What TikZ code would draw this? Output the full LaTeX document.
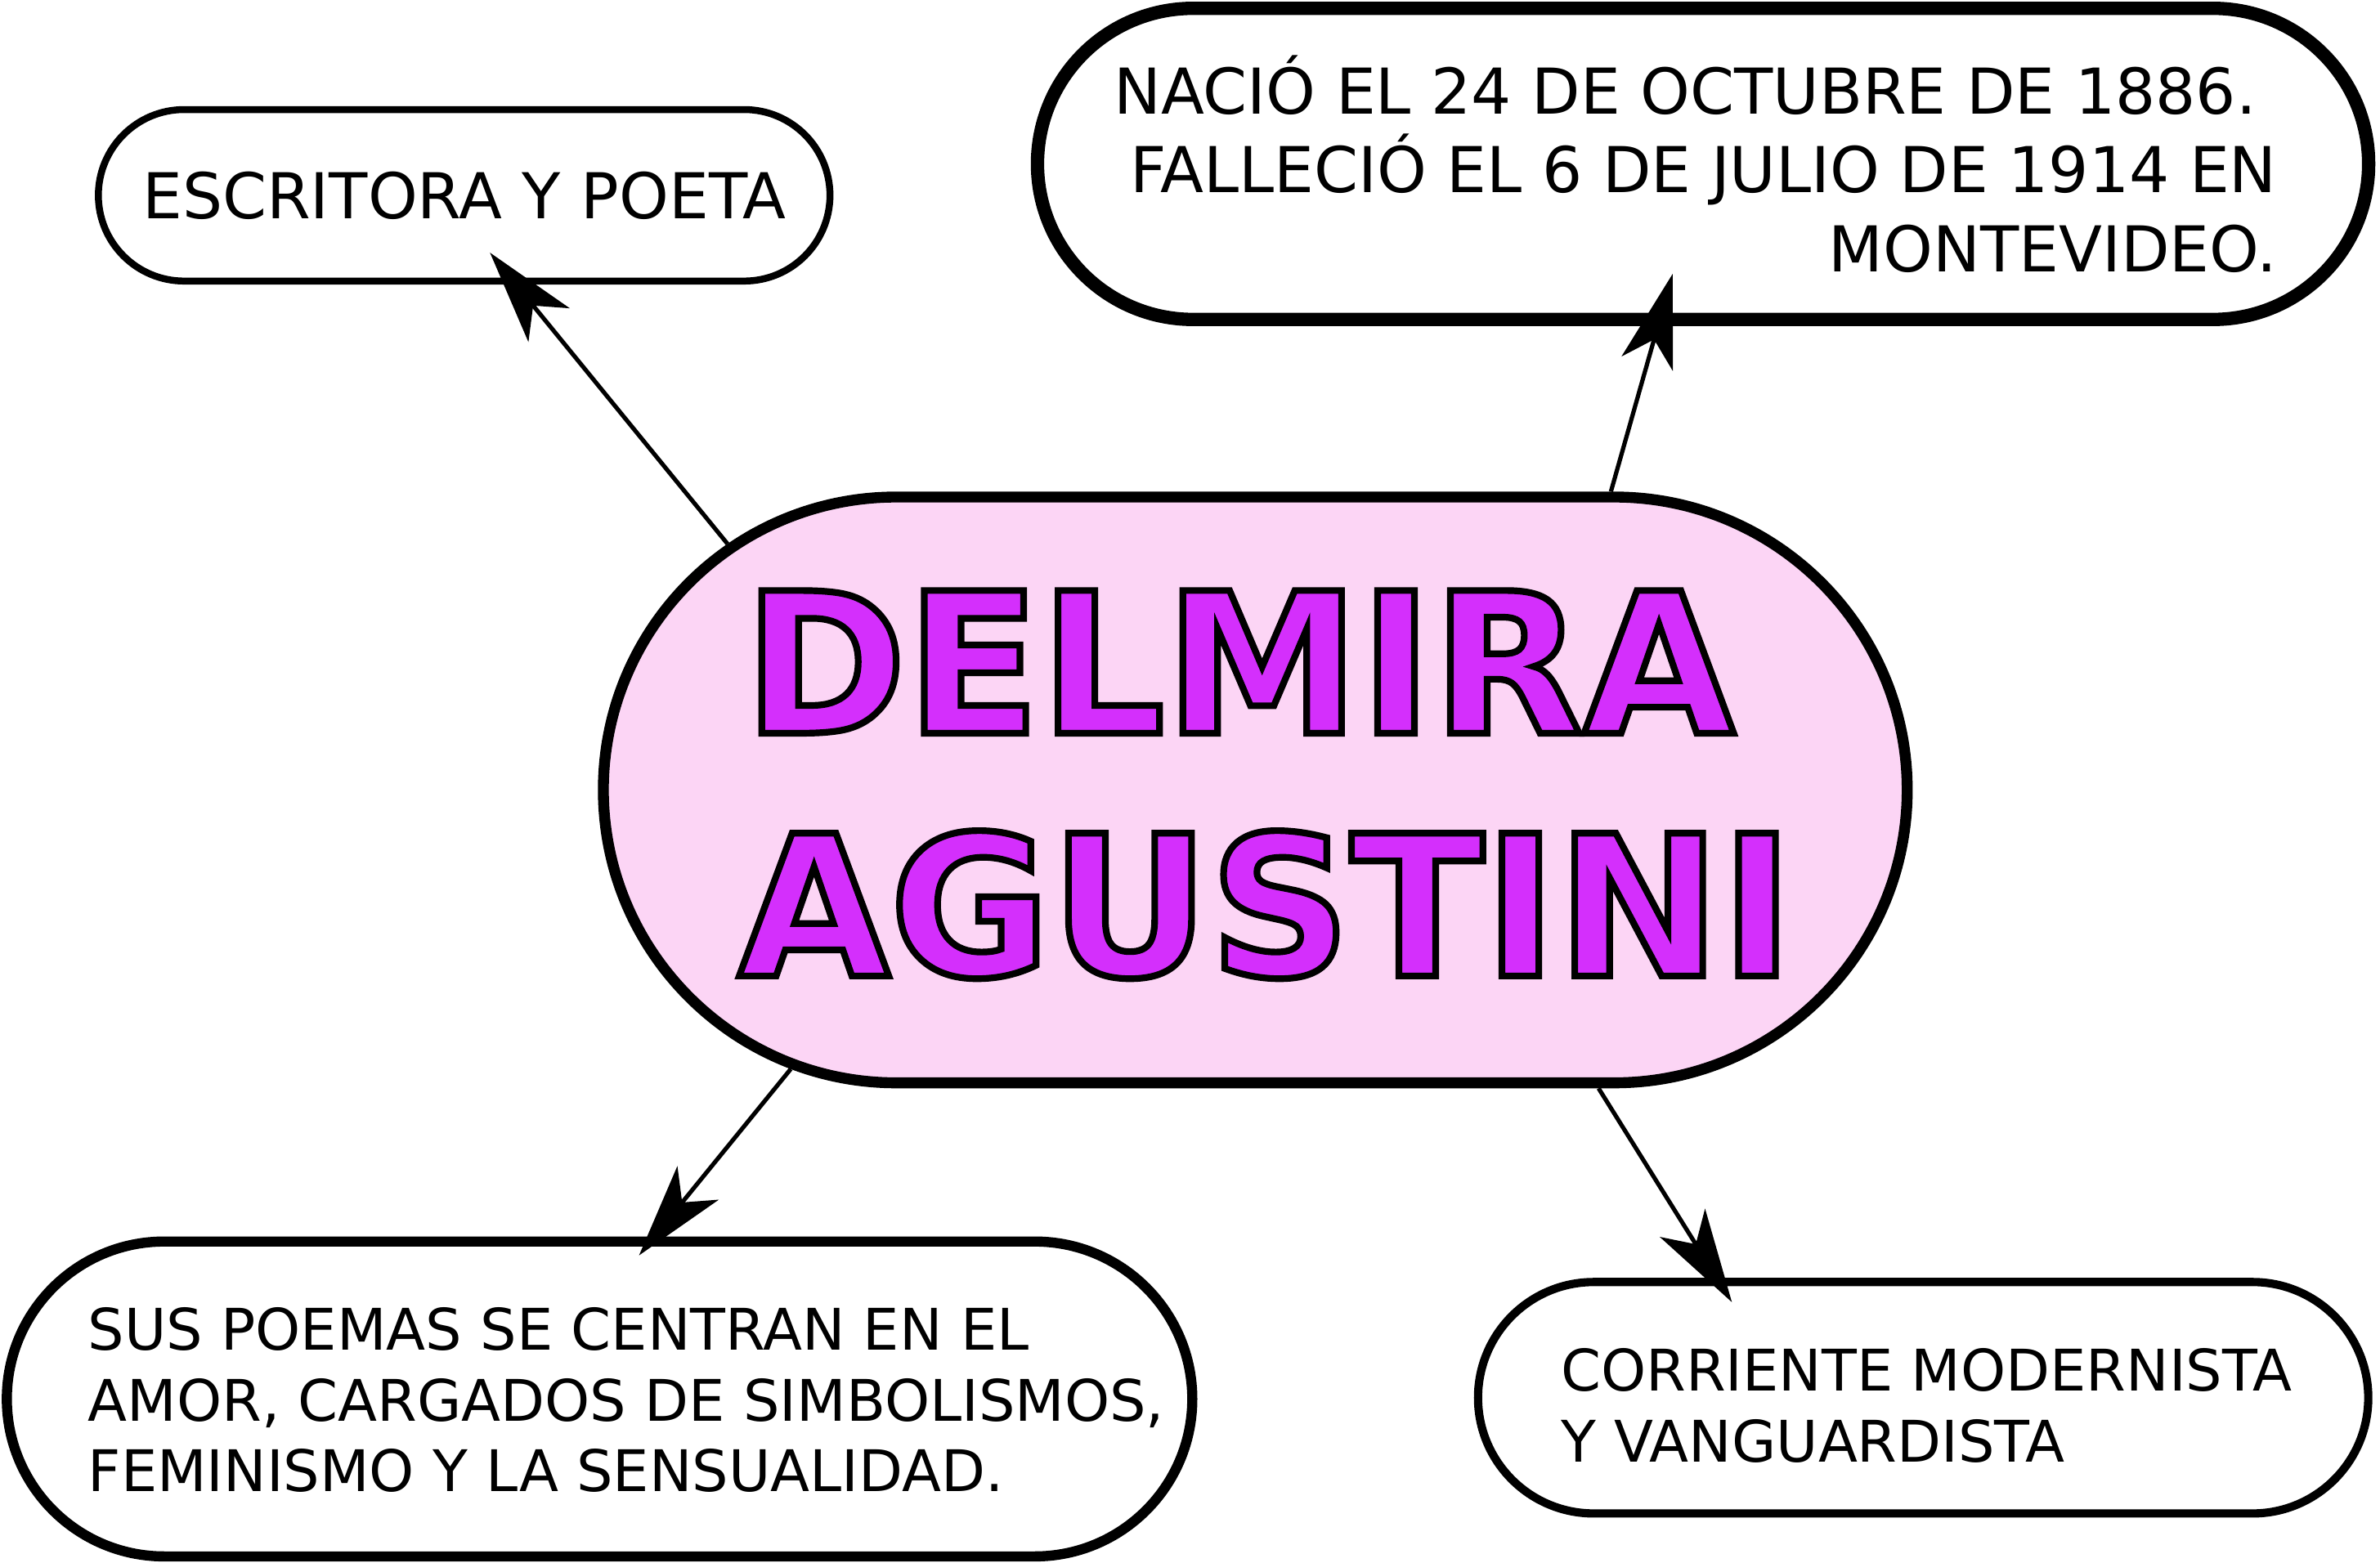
\documentclass[tikz,border=0pt]{standalone}
\usepackage{fontspec}
\setmainfont{DejaVu Sans}
\usetikzlibrary{shapes.misc,arrows.meta}
\definecolor{dmpink}{RGB}{252,213,245}
\definecolor{dmpurple}{RGB}{212,47,252}
\begin{document}
\begin{tikzpicture}[
    box/.style={draw,rounded rectangle,inner sep=0pt},
    txt/.style={inner sep=0pt,font=\fontsize{23.7}{29.6}\selectfont},
    small/.style={inner sep=0pt,align=left,font=\fontsize{21.5}{26.6}\selectfont},
    title/.style={inner sep=0pt,align=center,text=dmpurple,
      font=\fontsize{73.4}{91}\selectfont\bfseries},
    arr/.style={-{Stealth[length=12.3mm,width=7mm,inset=3.3mm]},line width=1.6pt}]
    \useasboundingbox (0,0) rectangle (31.36,20.587);
    \node[box,line width=4.1pt,fill=dmpink,minimum width=17.18cm,minimum height=7.72cm] (dm) at (16.54,10.177) {};
    \node[box,line width=2.6pt,minimum width=9.64cm,minimum height=2.26cm] (esc) at (6.116,18.013) {};
    \node[box,line width=5pt,minimum width=17.54cm,minimum height=4.1cm] (nac) at (22.44,18.427) {};
    \node[box,line width=3.8pt,minimum width=15.62cm,minimum height=4.15cm] (sus) at (7.9,2.151) {};
    \node[box,line width=3.1pt,minimum width=11.73cm,minimum height=3.05cm] (cor) at (25.34,2.167) {};
    \node[txt] (esc-t) at (esc) {ESCRITORA Y POETA};
    \node[txt,align=right,anchor=south east] (nac-t) at ([shift={(-1.29,-1.44)}]nac.east)
    {NACIÓ EL 24 DE OCTUBRE DE 1886.\kern0.27cm\\FALLECIÓ EL 6 DE JULIO DE 1914 EN\\MONTEVIDEO.};
    \node[small,anchor=south west] (sus-t) at ([shift={(1.13,-1.24)}]sus.west)
    {SUS POEMAS SE CENTRAN EN EL\\AMOR, CARGADOS DE SIMBOLISMOS,\\FEMINISMO Y LA SENSUALIDAD.};
    \node[small,anchor=south west] (cor-t) at ([shift={(1.14,-0.86)}]cor.west)
    {CORRIENTE MODERNISTA\\Y VANGUARDISTA};
    \coordinate (t1) at ([shift={(0.34,0.42)}]esc.south);
    \coordinate (t2) at ([shift={(-0.4,0.69)}]nac.south);
    \coordinate (t3) at ([shift={(0.52,-0.25)}]sus.north);
    \coordinate (t4) at ([shift={(-2.52,-0.32)}]cor.north);
    \draw[arr] (dm.155.5) -- (t1);
    \draw[arr] (dm.40.8) -- (t2);
    \draw[arr] (dm.211) -- (t3);
    \draw[arr] (dm.319.3) -- (t4);
    \node[title] (dm-t) at ([shift={(0.14,0.07)}]dm.center)
    {\special{pdf:literal direct 2 Tr 2.5 w 0 G}DELMIRA\kern0.7cm\\AGUSTINI\special{pdf:literal direct 0 Tr}};
  \end{tikzpicture}
\end{document}
